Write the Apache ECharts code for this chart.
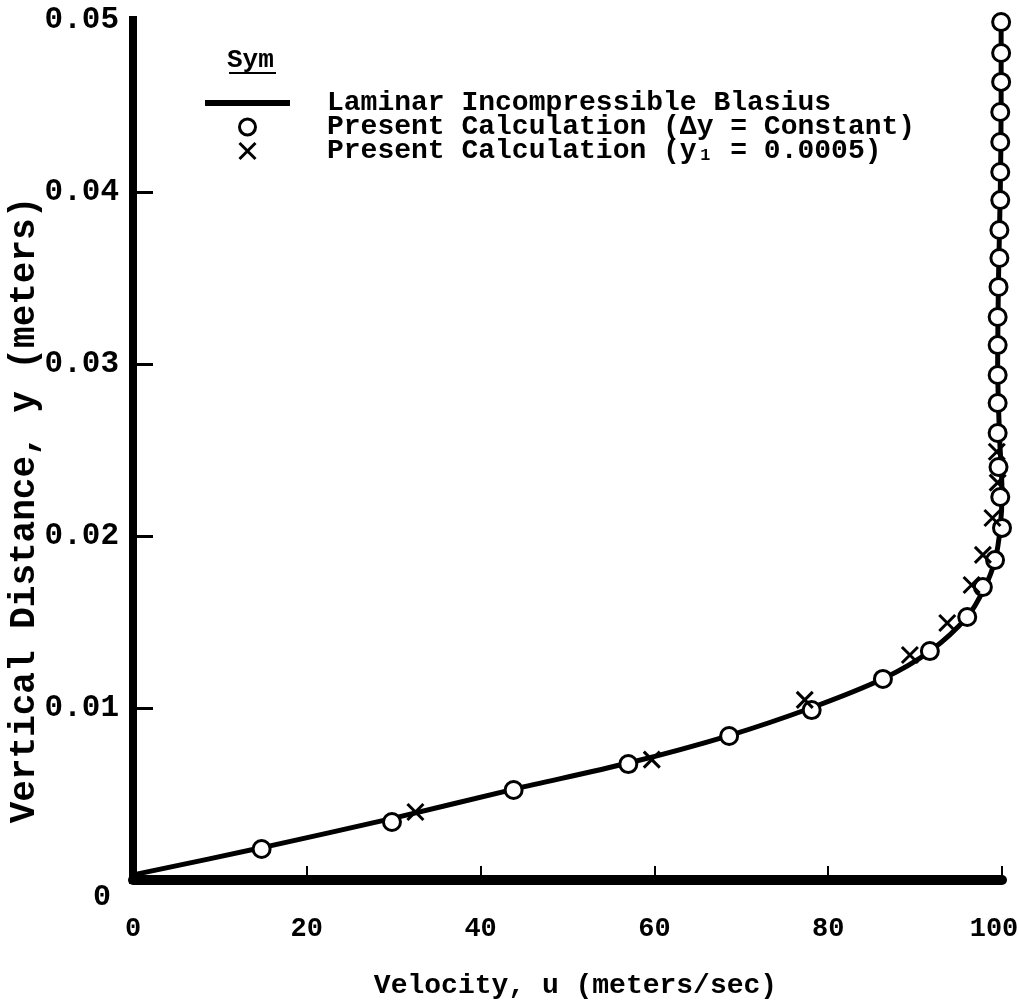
<!DOCTYPE html>
<html><head><meta charset="utf-8">
<script src="https://cdn.jsdelivr.net/npm/echarts@6/dist/echarts.min.js"></script>
<style>html,body{margin:0;padding:0;background:#fff}#c{width:1019px;height:1001px}</style>
</head><body><div id="c"></div>
<script>
// ---- data ----
const xTickValues = [20, 40, 60, 80, 100];
const yTickValues = [0.01, 0.02, 0.03, 0.04];
const seriesNames = ['Laminar Incompressible Blasius', 'Present Calculation (\u0394y = Constant)', 'Present Calculation (y\u2081 = 0.0005)'];

// Blasius curve: velocity u (m/s) and height y (m)
const blasiusU = [0, 15, 30, 44, 57, 68.6, 78, 86.3, 91.7, 96, 98, 99.2, 99.8, 100, 99.7, 99.5, 99.6, 99.8, 99.9, 99.9];
const blasiusY = [0.0003, 0.0019, 0.0036, 0.0053, 0.0068, 0.0084, 0.0100, 0.0117, 0.0133, 0.0153, 0.0170, 0.0186, 0.0205, 0.0225, 0.0260, 0.0300, 0.0350, 0.0400, 0.0450, 0.0500];

// Present calculation, constant dy (circles)
const constU = [14.8, 29.8, 43.8, 57.0, 68.6, 78.1, 86.3, 91.7, 96.0, 97.8, 99.2, 100.0, 99.8, 99.6, 99.5, 99.5, 99.5, 99.5, 99.5, 99.6, 99.7, 99.7, 99.8, 99.8, 99.8, 99.8, 99.9, 99.9, 99.9];
const constY = [0.0018, 0.00337, 0.00523, 0.00674, 0.00837, 0.00988, 0.01169, 0.01331, 0.01529, 0.01703, 0.0186, 0.02047, 0.02227, 0.02401, 0.02599, 0.02773, 0.02936, 0.0311, 0.03273, 0.03448, 0.03616, 0.03779, 0.03953, 0.04116, 0.04291, 0.04465, 0.0464, 0.04808, 0.04988];

// Present calculation, y1 = 0.0005 (crosses)
const crossU = [32.5, 59.7, 77.3, 89.4, 93.7, 96.5, 97.8, 98.9, 99.5, 99.4];
const crossY = [0.00395, 0.0070, 0.01047, 0.01308, 0.01494, 0.01715, 0.0189, 0.02105, 0.0231, 0.0249];

const zip = (a, b) => a.map((v, i) => [v, b[i]]);
const FONT = 'Liberation Mono';
const CROSS = 'path://M0 0 L10 10 M10 0 L0 10';

const chart = echarts.init(document.getElementById('c'), null, {renderer: 'canvas'});
chart.setOption({
  backgroundColor: '#fff',
  animation: false,
  grid: {left: 133, right: 17, top: 20, bottom: 121, outerBoundsMode: 'none', containLabel: false},
  title: {
    text: 'Sym', left: 227, top: 47, padding: 0,
    textStyle: {fontFamily: FONT, fontWeight: 'bold', fontSize: 26, color: '#000'}
  },
  graphic: [{
    type: 'line', shape: {x1: 229, y1: 73, x2: 276, y2: 73},
    style: {stroke: '#000', lineWidth: 2}
  }],
  legend: {
    orient: 'vertical', left: 200, top: 84,
    itemWidth: 85, itemHeight: 16, itemGap: -4,
    symbolKeepAspect: true,
    data: [
      {name: seriesNames[0], icon: 'path://M0 0H85V6H0Z', itemStyle: {color: '#000', borderWidth: 0}},
      {name: seriesNames[1], icon: 'circle', itemStyle: {color: '#fff', borderColor: '#000', borderWidth: 3}},
      {name: seriesNames[2], icon: CROSS, itemStyle: {color: 'rgba(0,0,0,0)', borderColor: '#000', borderWidth: 3}}
    ],
    textStyle: {fontFamily: FONT, fontWeight: 'bold', fontSize: 28, color: '#000', padding: [0, 0, 0, 32]}
  },
  xAxis: {
    type: 'value', min: 0, max: 100, interval: 20,
    name: 'Velocity, u (meters/sec)', nameLocation: 'middle', nameGap: 92, nameMoveOverlap: false,
    nameTextStyle: {fontFamily: FONT, fontWeight: 'bold', fontSize: 28, color: '#000', padding: [0, 0, 0, 16]},
    axisLine: {lineStyle: {color: '#000', width: 10}},
    axisTick: {inside: true, length: 14, customValues: xTickValues, lineStyle: {color: '#000', width: 2}},
    axisLabel: {
      margin: 36, fontFamily: FONT, fontWeight: 'bold', fontSize: 27, color: '#000',
      formatter: v => v === 100 ? '{m|100}' : String(v),
      rich: {m: {fontFamily: FONT, fontWeight: 'bold', fontSize: 27, color: '#000', padding: [0, 16, 0, 0]}}
    },
    splitLine: {show: false}
  },
  yAxis: {
    type: 'value', min: 0, max: 0.05, interval: 0.01,
    name: 'Vertical Distance, y (meters)', nameLocation: 'middle', nameGap: 90, nameMoveOverlap: false,
    nameTextStyle: {fontFamily: FONT, fontWeight: 'bold', fontSize: 36, color: '#000', padding: [0, 120, 0, 0]},
    axisLine: {lineStyle: {color: '#000', width: 8, cap: 'square'}},
    axisTick: {inside: true, length: 20, customValues: yTickValues, lineStyle: {color: '#000', width: 3}},
    axisLabel: {
      margin: 14, fontFamily: FONT, fontWeight: 'bold', fontSize: 31, color: '#000',
      formatter: v => v === 0 ? '{z|0}' : v.toFixed(2),
      rich: {z: {fontFamily: FONT, fontWeight: 'bold', fontSize: 30, color: '#000', padding: [34, 8, 0, 0]}}
    },
    splitLine: {show: false}
  },
  series: [
    {
      name: seriesNames[0], type: 'line', data: zip(blasiusU, blasiusY),
      symbol: 'none', smooth: 0.3, z: 2,
      lineStyle: {color: '#000', width: 5}, itemStyle: {color: '#000'}
    },
    {
      name: seriesNames[1], type: 'scatter', data: zip(constU, constY),
      symbol: 'circle', symbolSize: 17, z: 3,
      itemStyle: {color: '#fff', borderColor: '#000', borderWidth: 3, opacity: 1}
    },
    {
      name: seriesNames[2], type: 'scatter', data: zip(crossU, crossY),
      symbol: CROSS, symbolSize: 16, z: 4,
      itemStyle: {color: 'rgba(0,0,0,0)', borderColor: '#000', borderWidth: 3, opacity: 1}
    }
  ]
});
</script></body></html>
